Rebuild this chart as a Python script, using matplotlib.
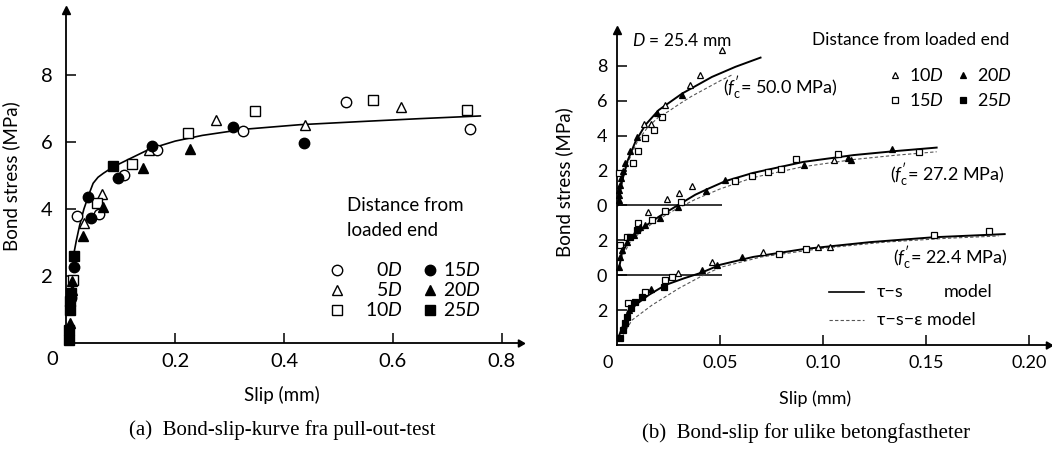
import matplotlib
matplotlib.use("Agg")
import matplotlib.pyplot as plt

plt.rcParams['font.family'] = ['Lato', 'DejaVu Sans']
plt.rcParams['mathtext.fontset'] = 'custom'
plt.rcParams['mathtext.rm'] = 'Lato'
plt.rcParams['mathtext.it'] = 'Lato:italic'
plt.rcParams['mathtext.bf'] = 'Lato:bold'

# ---------------- (a) left panel data ----------------
l0D_x = [0.020, 0.060, 0.106, 0.166, 0.325, 0.514, 0.742]
l0D_y = [3.80, 3.85, 5.01, 5.76, 6.33, 7.20, 6.38]
l5D_x = [0.032, 0.065, 0.152, 0.275, 0.438, 0.615]
l5D_y = [3.59, 4.45, 5.76, 6.66, 6.51, 7.05]
l10D_x = [0.0125, 0.057, 0.121, 0.224, 0.347, 0.563, 0.736]
l10D_y = [1.88, 4.19, 5.36, 6.26, 6.93, 7.27, 6.96]
l15D_x = [0.008, 0.0138, 0.040, 0.0445, 0.095, 0.157, 0.307, 0.4375]
l15D_y = [1.35, 2.26, 4.37, 3.72, 4.92, 5.88, 6.46, 5.98]
l20D_x = [0.0065, 0.0095, 0.010, 0.030, 0.0666, 0.141, 0.228]
l20D_y = [0.60, 1.58, 1.85, 3.20, 4.07, 5.24, 5.78]
l25D_x = [0.004, 0.005, 0.006, 0.007, 0.008, 0.0138, 0.086]
l25D_y = [0.10, 0.40, 1.00, 1.25, 1.50, 2.60, 5.28]
lcurve_x = [0.0138, 0.018, 0.024, 0.032, 0.042, 0.049, 0.058, 0.068, 0.086,
            0.111, 0.154, 0.20, 0.25, 0.325, 0.43, 0.55, 0.65, 0.761]
lcurve_y = [2.69, 3.05, 3.50, 4.00, 4.47, 4.77, 4.95, 5.07, 5.26,
            5.46, 5.80, 6.03, 6.20, 6.38, 6.52, 6.62, 6.70, 6.78]
l_xticks = [0.2, 0.4, 0.6, 0.8]
l_xticklabels = ['0.2', '0.4', '0.6', '0.8']
l_yticks = [2, 4, 6, 8]
l_yticklabels = ['2', '4', '6', '8']

# ---------------- (b) right panel data ----------------
# curve offsets (stacked plot)
off_top, off_mid, off_bot = 8, 4, 0
# top: f'c = 50.0 MPa
t10D_x = [0.0130, 0.0167, 0.0231, 0.0356, 0.0404, 0.051]
t10D_y = [4.65, 4.68, 5.79, 6.90, 7.47, 8.90]
t20D_x = [0.0008, 0.0010, 0.0012, 0.0015, 0.0020, 0.0030, 0.0039, 0.0063, 0.0098, 0.0193, 0.0316]
t20D_y = [0.30, 0.60, 0.90, 1.20, 1.60, 2.00, 2.45, 3.15, 3.90, 5.28, 6.35]
t15D_x = [0.0012, 0.0078, 0.0104, 0.0134, 0.0180, 0.0218]
t15D_y = [1.88, 2.45, 3.12, 3.85, 4.32, 5.10]
tsolid_x = [0.0003, 0.0008, 0.0014, 0.0024, 0.0049, 0.0089, 0.0137, 0.0202, 0.0316, 0.046, 0.0574, 0.0696]
tsolid_y = [0.00, 0.05, 0.70, 1.36, 2.50, 3.65, 4.61, 5.47, 6.42, 7.37, 7.95, 8.48]
tdash_x = [0.002, 0.005, 0.010, 0.015, 0.020, 0.025, 0.030, 0.036, 0.043, 0.050, 0.056]
tdash_y = [1.10, 2.40, 3.70, 4.50, 5.05, 5.40, 5.80, 6.25, 6.70, 7.15, 7.50]
# middle: f'c = 27.2 MPa
m10D_x = [0.0152, 0.0241, 0.0302, 0.0363, 0.105]
m10D_y = [3.60, 4.35, 4.73, 5.11, 6.60]
m20D_x = [0.0010, 0.0016, 0.0024, 0.0050, 0.0081, 0.0113, 0.0137, 0.0209, 0.0295,
          0.0432, 0.0526, 0.0909, 0.112, 0.1136, 0.1333]
m20D_y = [0.49, 1.06, 1.45, 1.92, 2.30, 2.78, 2.88, 3.26, 3.93,
          4.84, 5.45, 6.32, 6.70, 6.60, 7.23]
m15D_x = [0.0016, 0.0049, 0.0104, 0.0168, 0.0233, 0.031, 0.0573, 0.0654, 0.0734,
          0.0796, 0.0869, 0.107, 0.1466]
m15D_y = [1.73, 2.21, 2.97, 3.16, 3.68, 4.21, 5.40, 5.68, 5.93,
          6.07, 6.64, 6.95, 7.08]
m25D_x = [0.0062, 0.0095]
m25D_y = [2.20, 2.60]
msolid_x = [0.0008, 0.0024, 0.0057, 0.0121, 0.0202, 0.0283, 0.038, 0.044, 0.0526,
            0.066, 0.0904, 0.1147, 0.135, 0.155]
msolid_y = [0.30, 1.25, 2.02, 2.69, 3.35, 3.93, 4.62, 4.95, 5.40,
            5.87, 6.50, 6.89, 7.12, 7.32]
mdash_x = [0.002, 0.006, 0.012, 0.020, 0.028, 0.038, 0.050, 0.066, 0.090, 0.115, 0.135, 0.155]
mdash_y = [0.90, 1.85, 2.55, 3.20, 3.75, 4.35, 4.95, 5.60, 6.22, 6.64, 6.88, 7.08]
# bottom: f'c = 22.4 MPa
b10D_x = [0.0298, 0.046, 0.071, 0.0974, 0.1034]
b10D_y = [4.14, 4.77, 5.35, 5.63, 5.63]
b20D_x = [0.0060, 0.0167, 0.041, 0.0484, 0.0605]
b20D_y = [2.00, 3.19, 4.30, 4.58, 5.06]
b15D_x = [0.0055, 0.0136, 0.0231, 0.0267, 0.0786, 0.0917, 0.1536, 0.1806]
b15D_y = [2.39, 3.05, 3.72, 3.88, 5.21, 5.48, 6.30, 6.55]
b25D_x = [0.0016, 0.0028, 0.0037, 0.0049, 0.0069, 0.0089, 0.0121, 0.0227]
b25D_y = [0.38, 0.86, 1.24, 1.62, 2.10, 2.48, 2.77, 3.34]
bsolid_x = [0.0008, 0.004, 0.0089, 0.0154, 0.0235, 0.0324, 0.041, 0.050, 0.066,
            0.0904, 0.1228, 0.1536, 0.188]
bsolid_y = [0.48, 1.43, 2.29, 2.87, 3.44, 3.82, 4.15, 4.60, 5.05,
            5.50, 5.90, 6.18, 6.36]
bdash_x = [0.003, 0.0073, 0.017, 0.030, 0.0404, 0.050, 0.070, 0.100, 0.130, 0.160, 0.185]
bdash_y = [0.60, 1.43, 2.29, 3.25, 3.91, 4.45, 5.05, 5.55, 5.90, 6.12, 6.25]
zero_line_end = 0.051
r_xticks = [0.05, 0.10, 0.15, 0.20]
r_xticklabels = ['0.05', '0.10', '0.15', '0.20']
r_yticks = [2, 4, 6, 8, 10, 12, 14, 16]
r_yticklabels = ['2', '0', '2', '0', '2', '4', '6', '8']


def shift(vals, off):
    return [v + off for v in vals]


fig = plt.figure(figsize=(10.52, 4.51), dpi=100)
axL = fig.add_axes([0.0632, 0.2395, 0.4311, 0.738])
axR = fig.add_axes([0.5865, 0.235, 0.4097, 0.698])


def style(ax, fs, pad_x, pad_y):
    for s in ['top', 'right']:
        ax.spines[s].set_visible(False)
    for s in ['left', 'bottom']:
        ax.spines[s].set_linewidth(1.3)
    ax.tick_params(direction='in', length=7, width=1.1, labelsize=fs)
    ax.tick_params(axis='x', pad=pad_x)
    ax.tick_params(axis='y', pad=pad_y)
    ax.plot(1, 0, marker=(3, 0, -90), color='k', ms=6, transform=ax.get_yaxis_transform(), clip_on=False)
    ax.plot(0, 1, marker='^', color='k', ms=6, transform=ax.get_xaxis_transform(), clip_on=False)


# ---------------- left ----------------
ax = axL
ax.set_xlim(0, 0.834)
ax.set_ylim(0, 9.94)
style(ax, 14.5, 7, 10)
ax.set_xticks(l_xticks, l_xticklabels)
ax.set_yticks(l_yticks, l_yticklabels)
ax.annotate('0', xy=(0, 0), xytext=(-10, -6), textcoords='offset points',
            ha='center', va='top', fontsize=14.5)
ax.plot(lcurve_x, lcurve_y, color='k', lw=1.2, zorder=2)

msL = 7.5
kw_open = dict(ls='none', mfc='white', mec='k', mew=1.0, ms=msL, zorder=3, clip_on=False)
kw_fill = dict(ls='none', mfc='k', mec='k', mew=1.0, ms=msL, zorder=3, clip_on=False)
ax.plot(l0D_x, l0D_y, 'o', **kw_open)
ax.plot(l5D_x, l5D_y, '^', **kw_open)
ax.plot(l10D_x, l10D_y, 's', **kw_open)
ax.plot(l15D_x, l15D_y, 'o', **kw_fill)
ax.plot(l20D_x, l20D_y, '^', **kw_fill)
ax.plot(l25D_x, l25D_y, 's', **kw_fill)

ax.set_ylabel('Bond stress (MPa)', fontsize=13.5)
ax.yaxis.set_label_coords(-0.102, 0.50)
ax.set_xlabel('Slip (mm)', fontsize=13.5)
ax.xaxis.set_label_coords(0.475, -0.13)

# legend (manual layout)
ax.text(0.515, 4.12, 'Distance from', fontsize=13.5, va='center', ha='left')
ax.text(0.515, 3.37, 'loaded end', fontsize=13.5, va='center', ha='left')
leg_rows = [2.18, 1.58, 0.985]
leg_labels1 = ['0$D$', '5$D$', '10$D$']
leg_labels2 = ['15$D$', '20$D$', '25$D$']
leg_mk = ['o', '^', 's']
for yy, lab1, lab2, mk in zip(leg_rows, leg_labels1, leg_labels2, leg_mk):
    ax.plot([0.498], [yy], mk, **kw_open)
    ax.text(0.618, yy, lab1, fontsize=14, va='center', ha='right')
    ax.plot([0.669], [yy], mk, **kw_fill)
    ax.text(0.693, yy, lab2, fontsize=14, va='center', ha='left')

# ---------------- right ----------------
ax = axR
ax.set_xlim(0, 0.209)
ax.set_ylim(0, 18.05)
style(ax, 13, 7, 7)
ax.set_xticks(r_xticks, r_xticklabels)
ax.set_yticks(r_yticks, r_yticklabels)
ax.annotate('0', xy=(0, 0), xytext=(-7, -7), textcoords='offset points',
            ha='center', va='top', fontsize=13)
ax.hlines([off_mid, off_top], 0, zero_line_end, color='k', lw=1.1, zorder=2)

msR = 5
kwo = dict(ls='none', mfc='white', mec='k', mew=0.9, ms=msR, zorder=3, clip_on=False)
kwf = dict(ls='none', mfc='k', mec='k', mew=0.9, ms=msR, zorder=3, clip_on=False)
kw_solid = dict(color='k', lw=1.4, zorder=2)
kw_dash = dict(color='#555555', lw=0.8, ls=(0, (3, 2)), zorder=2)

for sx, sy, dx, dy, off in [(tsolid_x, tsolid_y, tdash_x, tdash_y, off_top),
                            (msolid_x, msolid_y, mdash_x, mdash_y, off_mid),
                            (bsolid_x, bsolid_y, bdash_x, bdash_y, off_bot)]:
    ax.plot(dx, shift(dy, off), **kw_dash)
    ax.plot(sx, shift(sy, off), **kw_solid)

ax.plot(t15D_x, shift(t15D_y, off_top), 's', **kwo)
ax.plot(t10D_x, shift(t10D_y, off_top), '^', **kwo)
ax.plot(t20D_x, shift(t20D_y, off_top), '^', **kwf)
ax.plot(m15D_x, shift(m15D_y, off_mid), 's', **kwo)
ax.plot(m10D_x, shift(m10D_y, off_mid), '^', **kwo)
ax.plot(m20D_x, shift(m20D_y, off_mid), '^', **kwf)
ax.plot(m25D_x, shift(m25D_y, off_mid), 's', **kwf)
ax.plot(b15D_x, shift(b15D_y, off_bot), 's', **kwo)
ax.plot(b10D_x, shift(b10D_y, off_bot), '^', **kwo)
ax.plot(b20D_x, shift(b20D_y, off_bot), '^', **kwf)
ax.plot(b25D_x, shift(b25D_y, off_bot), 's', **kwf)

ax.set_ylabel('Bond stress (MPa)', fontsize=13.5)
ax.yaxis.set_label_coords(-0.102, 0.516)
ax.set_xlabel('Slip (mm)', fontsize=13)
ax.xaxis.set_label_coords(0.459, -0.145)

fsR = 12.5
ax.text(0.0073, 17.48, '$D$ = 25.4 mm', fontsize=fsR, va='center', ha='left')
ax.text(0.0947, 17.48, 'Distance from loaded end', fontsize=fsR, va='center', ha='left')
ax.plot([0.1346], [15.47], '^', **kwo)
ax.text(0.1414, 15.47, '10$D$', fontsize=13, va='center', ha='left')
ax.plot([0.168], [15.47], '^', **kwf)
ax.text(0.1746, 15.47, '20$D$', fontsize=13, va='center', ha='left')
ax.plot([0.1346], [14.04], 's', **kwo)
ax.text(0.1414, 14.04, '15$D$', fontsize=13, va='center', ha='left')
ax.plot([0.168], [14.04], 's', **kwf)
ax.text(0.1746, 14.04, '25$D$', fontsize=13, va='center', ha='left')

ax.text(0.0516, 14.71, "($f_{\\mathrm{c}}'$= 50.0 MPa)", fontsize=13, va='center', ha='left')
ax.text(0.1325, 9.74, "($f_{\\mathrm{c}}'$= 27.2 MPa)", fontsize=13, va='center', ha='left')
ax.text(0.1338, 4.97, "($f_{\\mathrm{c}}'$= 22.4 MPa)", fontsize=13, va='center', ha='left')

ax.plot([0.1026, 0.1196], [3.06, 3.06], color='k', lw=1.2)
ax.text(0.126, 3.06, 'τ−s', fontsize=13, va='center', ha='left')
ax.text(0.1584, 3.06, 'model', fontsize=13, va='center', ha='left')
ax.plot([0.1026, 0.1196], [1.43, 1.43], **kw_dash)
ax.text(0.126, 1.43, 'τ−s−ε model', fontsize=13, va='center', ha='left')

# captions
fig.text(0.268, 0.047, '(a)  Bond-slip-kurve fra pull-out-test', fontsize=15,
         family=['Liberation Serif', 'DejaVu Serif'], ha='center', va='center')
fig.text(0.766, 0.040, '(b)  Bond-slip for ulike betongfastheter', fontsize=15,
         family=['Liberation Serif', 'DejaVu Serif'], ha='center', va='center')

fig.savefig('out.png', dpi=100)
